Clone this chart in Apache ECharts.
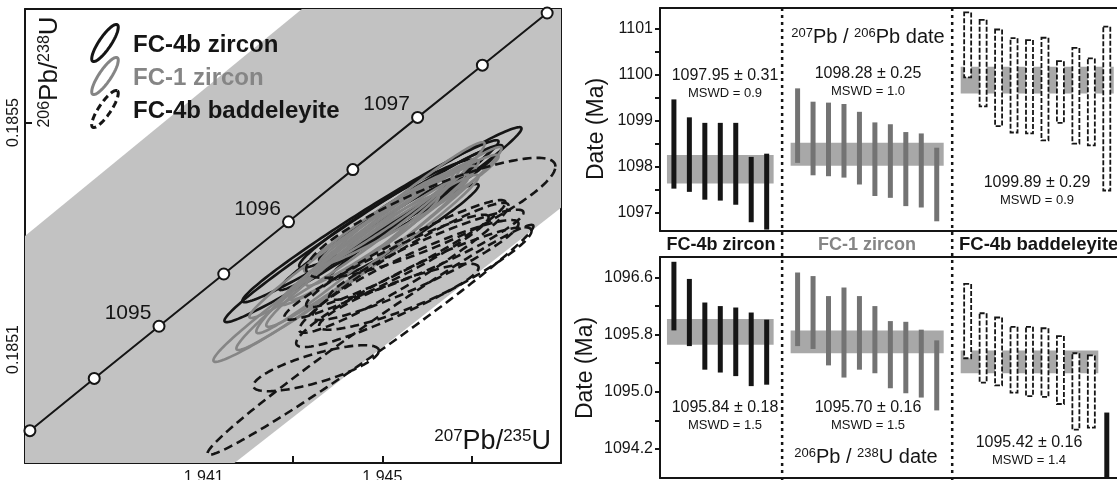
<!DOCTYPE html>
<html><head><meta charset="utf-8">
<script src="https://cdn.jsdelivr.net/npm/echarts@6/dist/echarts.min.js"></script>
<style>html,body{margin:0;padding:0;background:#fff;}#c{width:1117px;height:480px;}</style>
</head><body><div id="c"></div>
<script>
// ================= DATA =================
// Concordia curve (age in Ma, 207Pb/235U, 206Pb/238U)
const concordiaAges = [1094.0, 1094.5, 1095.0, 1095.5, 1096.0, 1096.5, 1097.0, 1097.5, 1098.0];
const concordiaX = [1.93711, 1.93855, 1.94000, 1.94145, 1.94290, 1.94434, 1.94579, 1.94724, 1.94869];
const concordiaY = [0.184957, 0.185049, 0.185141, 0.185233, 0.185325, 0.185417, 0.185509, 0.185601, 0.185693];
// Concordia uncertainty envelope (207/235, 206/238)
const envelopeX = [1.9370, 1.94320, 1.9490, 1.9490, 1.94169, 1.9370];
const envelopeY = [0.18530, 0.18570, 0.18570, 0.18535, 0.18490, 0.18490];
// Error ellipses: [x, y, 2s x, 2s y, rho]
const fc4bZirconEll = [
  [1.944790, 0.185320, 0.003326, 0.0001718, 0.9853],
  [1.944734, 0.185326, 0.002868, 0.0001427, 0.9829],
  [1.945091, 0.185339, 0.001953, 0.0000952, 0.9616],
  [1.945036, 0.185328, 0.002344, 0.0001233, 0.9856],
  [1.945638, 0.185358, 0.002054, 0.0001022, 0.9736],
  [1.945482, 0.185307, 0.001674, 0.0000846, 0.9702],
  [1.945482, 0.185337, 0.001228, 0.0000617, 0.9585]
];
const fc1ZirconEll = [
  [1.944187, 0.185243, 0.002969, 0.0001648, 0.9831],
  [1.944701, 0.185278, 0.002969, 0.0001789, 0.9849],
  [1.944734, 0.185297, 0.002556, 0.0001683, 0.9817],
  [1.944667, 0.185274, 0.002266, 0.0001339, 0.9783],
  [1.944366, 0.185286, 0.002344, 0.0001304, 0.9827],
  [1.945036, 0.185311, 0.002120, 0.0001233, 0.9747],
  [1.945192, 0.185318, 0.001897, 0.0001057, 0.9736],
  [1.944924, 0.185325, 0.001674, 0.0000881, 0.9720],
  [1.944478, 0.185275, 0.001786, 0.0000969, 0.9690],
  [1.945594, 0.185346, 0.002009, 0.0000969, 0.9712]
];
const fc4bBaddEll = [
  [1.944734, 0.185117, 0.003649, 0.0002026, 0.9882],
  [1.943518, 0.185067, 0.001406, 0.0000405, 0.7620],
  [1.946085, 0.185332, 0.002790, 0.0001057, 0.8550],
  [1.945482, 0.185244, 0.002344, 0.0001145, 0.9527],
  [1.945739, 0.185240, 0.002310, 0.0000881, 0.9278],
  [1.945705, 0.185210, 0.002634, 0.0001057, 0.9333],
  [1.945527, 0.185269, 0.002232, 0.0000943, 0.9522],
  [1.945370, 0.185193, 0.001786, 0.0000581, 0.8815],
  [1.945091, 0.185245, 0.002288, 0.0000925, 0.9512],
  [1.945984, 0.185267, 0.002176, 0.0000793, 0.9358]
];
// Left panel tick labels
const xTicksL = [1.939, 1.941, 1.943, 1.945, 1.947];
const xLabelsL = [1.941, 1.945];
const yTicksL = [0.1851, 0.1853, 0.1855];
const yLabelsL = [0.1851, 0.1855];
const concordiaLabelAges = [1095, 1096, 1097];

// Right panel: date ranges [low, high] (Ma)
const pb76_fc4bZircon = [[1097.53,1099.47],[1097.46,1099.08],[1097.29,1098.96],[1097.27,1098.96],[1097.18,1098.96],[1096.80,1098.22],[1096.64,1098.29]];
const pb76_fc1Zircon = [[1098.09,1099.71],[1097.82,1099.42],[1097.80,1099.40],[1097.77,1099.37],[1097.62,1099.20],[1097.37,1098.97],[1097.33,1098.93],[1097.15,1098.76],[1097.12,1098.73],[1096.82,1098.42]];
const pb76_fc4bBadd = [[1099.95,1101.36],[1099.32,1101.20],[1098.89,1100.99],[1098.75,1100.80],[1098.73,1100.76],[1098.58,1100.81],[1098.96,1100.30],[1098.51,1100.59],[1098.47,1100.36],[1097.49,1101.05]];
const pb68_fc4bZircon = [[1095.86,1096.82],[1095.64,1096.58],[1095.31,1096.25],[1095.27,1096.20],[1095.22,1096.18],[1095.08,1096.11],[1095.10,1096.01]];
const pb68_fc1Zircon = [[1095.64,1096.67],[1095.60,1096.62],[1095.37,1096.34],[1095.20,1096.46],[1095.31,1096.34],[1095.26,1096.20],[1095.05,1095.99],[1094.98,1095.98],[1094.92,1095.87],[1094.74,1095.72]];
const pb68_fc4bBadd = [[1095.47,1096.51],[1095.13,1096.10],[1095.09,1096.04],[1094.99,1095.91],[1094.94,1095.91],[1094.93,1095.89],[1094.83,1095.78],[1094.47,1095.54],[1094.50,1095.51]];
const pb68_fc4bBaddRejected = [[1093.60,1094.71]];
// Weighted means
const mean76 = [1097.95, 1098.28, 1099.89], err76 = [0.31, 0.25, 0.29], mswd76 = [0.9, 1.0, 0.9];
const mean68 = [1095.84, 1095.70, 1095.42], err68 = [0.18, 0.16, 0.16], mswd68 = [1.5, 1.5, 1.4];
const groupNames = ['FC-4b zircon', 'FC-1 zircon', 'FC-4b baddeleyite'];
// Right panel ticks
const yTicksTop = [1097, 1097.5, 1098, 1098.5, 1099, 1099.5, 1100, 1100.5, 1101];
const yLabelsTop = [1097, 1098, 1099, 1100, 1101];
const yTicksBot = [1094.2, 1094.6, 1095.0, 1095.4, 1095.8, 1096.2, 1096.6];
const yLabelsBot = [1094.2, 1095.0, 1095.8, 1096.6];

// ================= LAYOUT / STYLE =================
const FONT = 'Liberation Sans, Arial, sans-serif';
const INK = '#151515', GREY_E = '#858585', GREY_BAR = '#737373', BAND = '#a8a8a8', ENV = '#c2c2c2';
const groupStart = [1, 9, 20];
const pad = 0.45;
const XR_MIN = 0.1, XR_MAX = 29.66;

function positioned(arr, g) { return arr.map((d, i) => [groupStart[g] + i, d[0], d[1]]); }

function ellipseRender(color, dash) {
  return function (params, api) {
    const cx = api.value(0), cy = api.value(1), sx = api.value(2), sy = api.value(3), r = api.value(4);
    const q = Math.sqrt(1 - r * r);
    const pts = [];
    for (let k = 0; k < 160; k++) {
      const t = k / 160 * 2 * Math.PI;
      pts.push(api.coord([cx + sx * Math.cos(t), cy + sy * (r * Math.cos(t) + q * Math.sin(t))]));
    }
    return { type: 'polygon', shape: { points: pts },
      style: { fill: 'none', stroke: color, lineWidth: 2.6, lineDash: dash } };
  };
}
function barRender(kind) {
  return function (params, api) {
    const x = api.value(0), lo = api.value(1), hi = api.value(2);
    const p1 = api.coord([x, hi]), p2 = api.coord([x, lo]);
    const w = kind === 'badd' ? 7 : 5;
    const cs = params.coordSys;
    const rect = echarts.graphic.clipRectByRect(
      { x: p1[0] - w / 2, y: p1[1], width: w, height: p2[1] - p1[1] },
      { x: cs.x, y: cs.y, width: cs.width, height: cs.height });
    if (!rect) return;
    let style;
    if (kind === 'badd') style = { fill: '#fff', stroke: INK, lineWidth: 1.8, lineDash: [5, 2] };
    else if (kind === 'grey') style = { fill: GREY_BAR };
    else style = { fill: INK };
    return { type: 'rect', shape: rect, style: style };
  };
}
function bandRender(params, api) {
  const p1 = api.coord([api.value(0), api.value(2) + api.value(3)]);
  const p2 = api.coord([api.value(1), api.value(2) - api.value(3)]);
  return { type: 'rect', shape: { x: p1[0], y: p1[1], width: p2[0] - p1[0], height: p2[1] - p1[1] }, style: { fill: BAND } };
}
function bandData(means, errs, lens) {
  return means.map((m, g) => [groupStart[g] - pad, groupStart[g] + lens[g] - 1 + pad, m, errs[g]]);
}

function ellPts(cx, cy, A, B, deg) {
  const th = deg * Math.PI / 180, pts = [];
  const ux = Math.cos(th), uy = -Math.sin(th), vx = Math.sin(th), vy = Math.cos(th);
  for (let k = 0; k < 60; k++) {
    const t = k / 60 * 2 * Math.PI;
    pts.push([cx + A * Math.cos(t) * ux + B * Math.sin(t) * vx, cy + A * Math.cos(t) * uy + B * Math.sin(t) * vy]);
  }
  return pts;
}

const supRich = (main, sup) => ({
  m: { fontSize: main, fontFamily: FONT, fill: INK, color: INK, verticalAlign: 'bottom' },
  s: { fontSize: sup, fontFamily: FONT, fill: INK, color: INK, verticalAlign: 'top' }
});

const axisLineStyle = { show: true, lineStyle: { color: INK, width: 2 } };
const noThing = { show: false };
const plainX = (grid, pos, min, max) => ({ type: 'value', gridIndex: grid, position: pos, min, max,
  axisLine: axisLineStyle, axisTick: noThing, axisLabel: noThing, splitLine: noThing });

const chart = echarts.init(document.getElementById('c'), null, { renderer: 'canvas' });

const graphics = [];
const Z = 100;
// legend
const legY = [43, 76, 109], legC = [INK, GREY_E, INK], legDash = [null, null, [7, 4]];
groupNames.forEach((n, i) => {
  graphics.push({ type: 'polygon', z: Z, shape: { points: ellPts(105, legY[i], 22, 6, 56) },
    style: { fill: 'none', stroke: legC[i], lineWidth: 3, lineDash: legDash[i] } });
  graphics.push({ type: 'text', z: Z, x: 133, y: legY[i] + 2,
    style: { text: n, fontSize: 24, fontWeight: 'bold', fontFamily: FONT, fill: legC[i], verticalAlign: 'middle' } });
});
// axis titles (left panel)
graphics.push({ type: 'text', z: Z, x: 50, y: 72, rotation: Math.PI / 2,
  style: { text: '{s|206}{m|Pb/}{s|238}{m|U}', rich: supRich(26, 16), align: 'center', verticalAlign: 'middle' } });
graphics.push({ type: 'text', z: Z, x: 551, y: 455,
  style: { text: '{s|207}{m|Pb/}{s|235}{m|U}', rich: supRich(27, 17), align: 'right', verticalAlign: 'bottom' } });
// right panel titles
graphics.push({ type: 'text', z: Z, x: 868, y: 37,
  style: { text: '{s|207}{m|Pb / }{s|206}{m|Pb date}', rich: supRich(20, 13), align: 'center', verticalAlign: 'middle' } });
graphics.push({ type: 'text', z: Z, x: 866, y: 457,
  style: { text: '{s|206}{m|Pb / }{s|238}{m|U date}', rich: supRich(20, 13), align: 'center', verticalAlign: 'middle' } });
graphics.push({ type: 'text', z: Z, x: 597, y: 129, rotation: Math.PI / 2,
  style: { text: 'Date (Ma)', fontSize: 23, fontFamily: FONT, fill: INK, align: 'center', verticalAlign: 'middle' } });
graphics.push({ type: 'text', z: Z, x: 586, y: 368, rotation: Math.PI / 2,
  style: { text: 'Date (Ma)', fontSize: 23, fontFamily: FONT, fill: INK, align: 'center', verticalAlign: 'middle' } });
// column labels
const colLabelX = [721, 867, 959], colLabelAlign = ['center', 'center', 'left'], colLabelC = [INK, GREY_E, INK];
const colLabelSize = [18, 18, 18.5];
groupNames.forEach((n, i) => graphics.push({ type: 'text', z: Z, x: colLabelX[i], y: 245,
  style: { text: n, fontSize: colLabelSize[i], fontWeight: 'bold', fontFamily: FONT, fill: colLabelC[i], align: colLabelAlign[i], verticalAlign: 'middle' } }));
// weighted-mean annotations
const annTop = [[725, 76], [868, 74], [1037, 183]];
const annBot = [[725, 408], [868, 408], [1029, 443]];
function addAnn(pos, means, errs, mswds) {
  pos.forEach((p, i) => {
    graphics.push({ type: 'text', z: Z, x: p[0], y: p[1], style: { text: means[i].toFixed(2) + ' \u00b1 ' + errs[i].toFixed(2),
      fontSize: 16, fontFamily: FONT, fill: INK, align: 'center', verticalAlign: 'middle' } });
    graphics.push({ type: 'text', z: Z, x: p[0], y: p[1] + 17, style: { text: 'MSWD = ' + mswds[i].toFixed(1),
      fontSize: 13, fontFamily: FONT, fill: INK, align: 'center', verticalAlign: 'middle' } });
  });
}
addAnn(annTop, mean76, err76, mswd76);
addAnn(annBot, mean68, err68, mswd68);

const option = {
  animation: false,
  backgroundColor: '#fff',
  grid: [
    { left: 25, top: 9, width: 536, height: 454, outerBoundsMode: 'none', containLabel: false },
    { left: 660, top: 8, width: 457, height: 223, outerBoundsMode: 'none', containLabel: false },
    { left: 660, top: 257, width: 457, height: 221, outerBoundsMode: 'none', containLabel: false },
    { left: 660, top: 8, width: 457, height: 472, outerBoundsMode: 'none', containLabel: false }
  ],
  xAxis: [
    { type: 'value', gridIndex: 0, min: 1.937, max: 1.949, position: 'bottom',
      axisLine: axisLineStyle,
      axisTick: { show: true, inside: true, length: 7, customValues: xTicksL, lineStyle: { color: INK, width: 2 } },
      axisLabel: { show: true, customValues: xLabelsL, margin: 7, fontSize: 16, fontFamily: FONT, color: INK,
        formatter: v => v.toFixed(3) },
      splitLine: noThing },
    plainX(0, 'top', 1.937, 1.949),
    plainX(1, 'bottom', XR_MIN, XR_MAX),
    plainX(1, 'top', XR_MIN, XR_MAX),
    plainX(2, 'bottom', XR_MIN, XR_MAX),
    plainX(2, 'top', XR_MIN, XR_MAX),
    { type: 'value', gridIndex: 3, min: XR_MIN, max: XR_MAX, show: false }
  ],
  yAxis: [
    { type: 'value', gridIndex: 0, min: 0.1849, max: 0.1857, position: 'left',
      axisLine: axisLineStyle,
      axisTick: { show: true, inside: true, length: 7, customValues: yTicksL, lineStyle: { color: INK, width: 2 } },
      axisLabel: { show: true, customValues: yLabelsL, rotate: 90, margin: 3, fontSize: 16, fontFamily: FONT, color: INK,
        formatter: v => v.toFixed(4) },
      splitLine: noThing },
    { type: 'value', gridIndex: 0, min: 0.1849, max: 0.1857, position: 'right',
      axisLine: axisLineStyle, axisTick: noThing, axisLabel: noThing, splitLine: noThing },
    { type: 'value', gridIndex: 1, min: 1096.609, max: 1101.457, position: 'left',
      axisLine: axisLineStyle,
      axisTick: { show: true, inside: false, length: 5, customValues: yTicksTop, lineStyle: { color: INK, width: 2 } },
      axisLabel: { show: true, customValues: yLabelsTop, margin: 7, fontSize: 16, fontFamily: FONT, color: INK,
        formatter: v => v.toFixed(0) },
      splitLine: noThing },
    { type: 'value', gridIndex: 2, min: 1093.794, max: 1096.887, position: 'left',
      axisLine: axisLineStyle,
      axisTick: { show: true, inside: false, length: 5, customValues: yTicksBot, lineStyle: { color: INK, width: 2 } },
      axisLabel: { show: true, customValues: yLabelsBot, margin: 7, fontSize: 16, fontFamily: FONT, color: INK,
        formatter: v => v.toFixed(1) },
      splitLine: noThing },
    { type: 'value', gridIndex: 3, min: 0, max: 1, show: false }
  ],
  series: [
    { type: 'custom', xAxisIndex: 0, yAxisIndex: 0, silent: true, z: 1, data: [[0]],
      renderItem: function (params, api) {
        const pts = envelopeX.map((x, i) => api.coord([x, envelopeY[i]]));
        return { type: 'polygon', shape: { points: pts }, style: { fill: ENV } };
      } },
    { type: 'custom', xAxisIndex: 0, yAxisIndex: 0, silent: true, z: 2, data: fc4bZirconEll, renderItem: ellipseRender(INK, null) },
    { type: 'custom', xAxisIndex: 0, yAxisIndex: 0, silent: true, z: 3, data: fc1ZirconEll, renderItem: ellipseRender(GREY_E, null) },
    { type: 'custom', xAxisIndex: 0, yAxisIndex: 0, silent: true, z: 4, data: fc4bBaddEll, renderItem: ellipseRender(INK, [9, 5]) },
    { type: 'line', xAxisIndex: 0, yAxisIndex: 0, z: 6, silent: true,
      data: concordiaAges.map((a, i) => [concordiaX[i], concordiaY[i], a]),
      symbol: 'circle', symbolSize: 11, showAllSymbol: true,
      itemStyle: { color: '#fff', borderColor: INK, borderWidth: 2 },
      lineStyle: { color: INK, width: 2 },
      label: { show: true, position: 'inside', offset: [-31, -13], fontSize: 21, fontFamily: FONT, color: INK,
        formatter: p => concordiaLabelAges.indexOf(p.value[2]) >= 0 ? String(p.value[2]) : '' } },
    // right panel: weighted-mean bands
    { type: 'custom', xAxisIndex: 2, yAxisIndex: 2, silent: true, z: 2,
      data: bandData(mean76, err76, [pb76_fc4bZircon.length, pb76_fc1Zircon.length, pb76_fc4bBadd.length]), renderItem: bandRender },
    { type: 'custom', xAxisIndex: 4, yAxisIndex: 3, silent: true, z: 2,
      data: bandData(mean68, err68, [pb68_fc4bZircon.length, pb68_fc1Zircon.length, pb68_fc4bBadd.length]), renderItem: bandRender },
    // bars top
    { type: 'custom', xAxisIndex: 2, yAxisIndex: 2, silent: true, z: 3, data: positioned(pb76_fc4bZircon, 0), renderItem: barRender('black') },
    { type: 'custom', xAxisIndex: 2, yAxisIndex: 2, silent: true, z: 3, data: positioned(pb76_fc1Zircon, 1), renderItem: barRender('grey') },
    { type: 'custom', xAxisIndex: 2, yAxisIndex: 2, silent: true, z: 3, data: positioned(pb76_fc4bBadd, 2), renderItem: barRender('badd') },
    // bars bottom
    { type: 'custom', xAxisIndex: 4, yAxisIndex: 3, silent: true, z: 3, data: positioned(pb68_fc4bZircon, 0), renderItem: barRender('black') },
    { type: 'custom', xAxisIndex: 4, yAxisIndex: 3, silent: true, z: 3, data: positioned(pb68_fc1Zircon, 1), renderItem: barRender('grey') },
    { type: 'custom', xAxisIndex: 4, yAxisIndex: 3, silent: true, z: 3, data: positioned(pb68_fc4bBadd, 2), renderItem: barRender('badd') },
    { type: 'custom', xAxisIndex: 4, yAxisIndex: 3, silent: true, z: 3,
      data: pb68_fc4bBaddRejected.map((d, i) => [groupStart[2] + pb68_fc4bBadd.length + i, d[0], d[1]]), renderItem: barRender('black') },
    // dotted separators between groups
    { type: 'custom', xAxisIndex: 6, yAxisIndex: 4, silent: true, z: 5,
      data: [[groupStart[1] - 1], [groupStart[2] - 1]],
      renderItem: function (params, api) {
        const a = api.coord([api.value(0), 1]), b = api.coord([api.value(0), 0]);
        return { type: 'line', shape: { x1: a[0], y1: a[1], x2: b[0], y2: b[1] },
          style: { stroke: INK, lineWidth: 2.5, lineDash: [3, 4] } };
      } }
  ],
  graphic: graphics
};
chart.setOption(option);
</script></body></html>
